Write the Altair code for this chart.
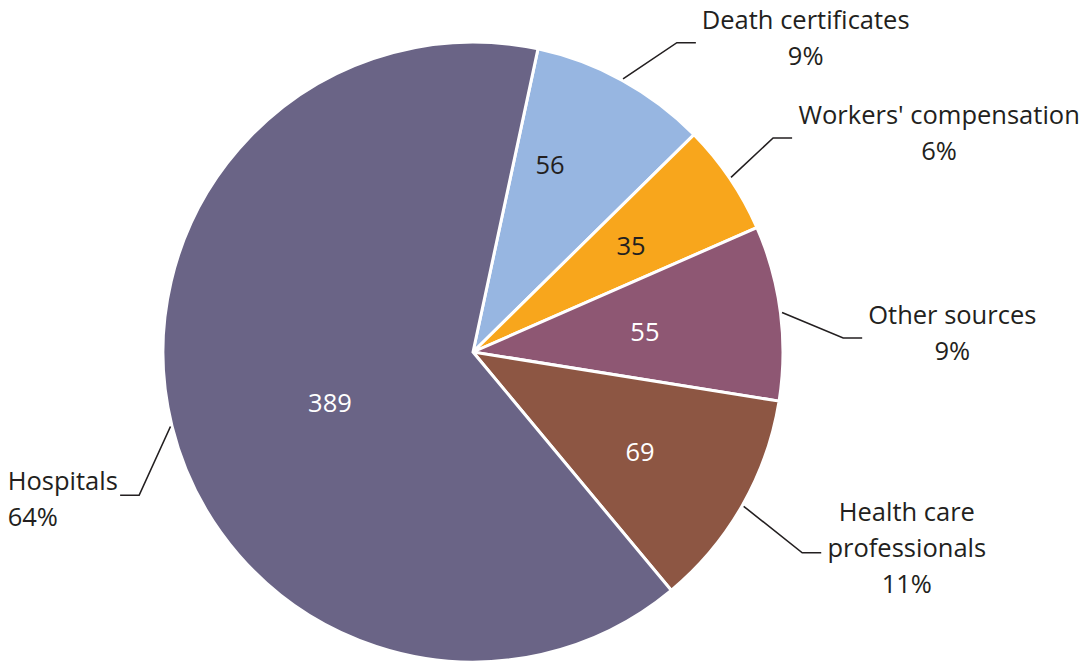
import altair as alt
import numpy as np
import pandas as pd

# ---- data ----
categories = ["Death certificates", "Workers' compensation", "Other sources",
              "Health care professionals", "Hospitals"]
label_lines = [["Death certificates"], ["Workers' compensation"], ["Other sources"],
               ["Health care", "professionals"], ["Hospitals"]]
values = [56, 35, 55, 69, 389]
colors = ["#97b6e1", "#f8a61c", "#8e5773", "#8d5643", "#6a6486"]

# ---- layout / style parameters ----
W, H = 1074, 655          # chart size (px)
CX, CY = 465, 344         # pie centre in chart px
R = 310                   # pie radius px
START_DEG = 12.1          # angle of first slice, clockwise from 12 o'clock
LEADER_NUDGE_DEG = [4.6, -1.4, 5.1, 1.7, -9.4]     # manual label-placement nudges
LEADER_ELBOW_R = [1.195, 1.189, 1.195, 1.244, 1.172]
INNER_NUDGE_DEG = [-6.3, 0.5, 1.0, 1.5, -6.2]
INNER_R = [0.649, 0.612, 0.558, 0.63, 0.491]
FONT = "Open Sans"
FS = 25.5
LH = 36
TXT = "#231f20"

# approximate Open Sans advance widths (em) for sizing label blocks
GLYPH_EM = {"a": .556, "b": .613, "c": .48, "d": .613, "e": .561, "f": .336, "g": .546,
            "h": .614, "i": .258, "j": .258, "k": .529, "l": .258, "m": .932, "n": .614,
            "o": .603, "p": .613, "q": .613, "r": .408, "s": .477, "t": .353, "u": .614,
            "v": .501, "w": .778, "x": .524, "y": .502, "z": .47, " ": .26, "'": .221,
            "D": .717, "H": .738, "O": .78, "W": .928, "%": .826}


def text_w(s):
    return sum(GLYPH_EM.get(ch, .572) for ch in s) * FS


total = float(sum(values))
vals = np.array(values, dtype=float)
start = np.radians(START_DEG) + np.concatenate([[0], np.cumsum(vals)[:-1]]) / total * 2 * np.pi
end = start + vals / total * 2 * np.pi
mid = (start + end) / 2
pct = [f"{int(round(v / total * 100))}%" for v in values]

df = pd.DataFrame({"category": categories, "value": values, "idx": range(len(values))})

xs = alt.Scale(domain=[-CX / R, (W - CX) / R], nice=False, zero=False)
ys = alt.Scale(domain=[-(H - CY) / R, CY / R], nice=False, zero=False)

rows, lab, inner = [], [], []
for i, c in enumerate(categories):
    s, co = np.sin(mid[i]), np.cos(mid[i])
    ea = mid[i] + np.radians(LEADER_NUDGE_DEG[i])
    side = 1 if np.sin(ea) >= 0 else -1
    p0 = (1.005 * s, 1.005 * co)
    p1 = (LEADER_ELBOW_R[i] * np.sin(ea), LEADER_ELBOW_R[i] * np.cos(ea))
    p2 = (p1[0] + side * 19 / R, p1[1])
    for k, p in enumerate([p0, p1, p2]):
        rows.append({"category": c, "k": k, "x": p[0], "y": p[1]})

    txt = label_lines[i] + [pct[i]]
    n = len(txt)
    width_px = max(text_w(t) for t in txt)
    if side > 0:
        x = p2[0] + (6 + width_px / 2) / R
        shift_up = 4
    else:
        x = p2[0] - (2 + width_px) / R
        shift_up = -5
    y = p2[1] + ((n - 1) * LH / 2 + shift_up) / R
    lab.append({"category": c, "x": x, "y": y, "text": "\n".join(txt), "side": side})

    ia = mid[i] + np.radians(INNER_NUDGE_DEG[i])
    inner.append({"category": c, "x": INNER_R[i] * np.sin(ia), "y": INNER_R[i] * np.cos(ia),
                  "text": str(values[i])})

lines_df = pd.DataFrame(rows)
lab_df = pd.DataFrame(lab)
inner_df = pd.DataFrame(inner)

pie = alt.Chart(df).mark_arc(outerRadius=R, stroke="white", strokeWidth=3).encode(
    theta=alt.Theta("value:Q", stack=True,
                    scale=alt.Scale(range=[np.radians(START_DEG), np.radians(START_DEG) + 2 * np.pi])),
    order=alt.Order("idx:Q"),
    color=alt.Color("category:N", scale=alt.Scale(domain=categories, range=colors), legend=None),
    x=alt.XDatum(0, type="quantitative", scale=xs, axis=None),
    y=alt.YDatum(0, type="quantitative", scale=ys, axis=None),
)

leaders = alt.Chart(lines_df).mark_line(color=TXT, strokeWidth=1.6).encode(
    x=alt.X("x:Q", scale=xs, axis=None),
    y=alt.Y("y:Q", scale=ys, axis=None),
    detail="category:N",
    order="k:Q",
)

right_labels = alt.Chart(lab_df).transform_filter("datum.side > 0").mark_text(
    font=FONT, fontSize=FS, lineHeight=LH, lineBreak="\n", align="center", baseline="middle",
    color=TXT,
).encode(
    x=alt.X("x:Q", scale=xs, axis=None), y=alt.Y("y:Q", scale=ys, axis=None), text="text:N"
)

left_labels = alt.Chart(lab_df).transform_filter("datum.side < 0").mark_text(
    font=FONT, fontSize=FS, lineHeight=LH, lineBreak="\n", align="left", baseline="middle",
    color=TXT,
).encode(
    x=alt.X("x:Q", scale=xs, axis=None), y=alt.Y("y:Q", scale=ys, axis=None), text="text:N"
)

inner_labels = alt.Chart(inner_df).mark_text(
    font=FONT, fontSize=FS, align="center", baseline="middle",
).encode(
    x=alt.X("x:Q", scale=xs, axis=None), y=alt.Y("y:Q", scale=ys, axis=None), text="text:N",
    color=alt.condition(
        alt.FieldOneOfPredicate(field="category", oneOf=["Death certificates", "Workers' compensation"]),
        alt.value(TXT), alt.value("white")),
)

chart = alt.layer(pie, leaders, right_labels, left_labels, inner_labels).properties(
    width=W, height=H, autosize=alt.AutoSizeParams(type="none"), padding=0,
).configure_view(stroke=None)

chart.save("out.html", embed_options={"renderer": "svg", "actions": False})
